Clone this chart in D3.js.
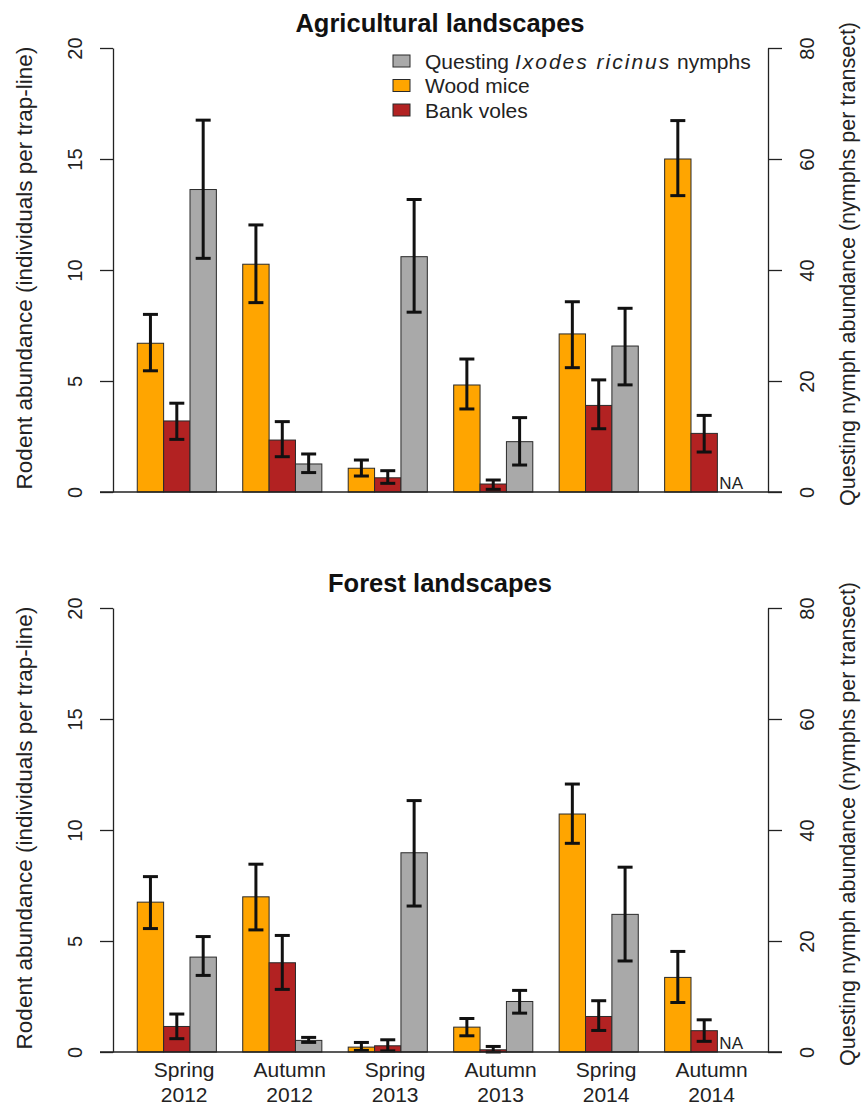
<!DOCTYPE html>
<html>
<head>
<meta charset="utf-8">
<script src="https://cdn.jsdelivr.net/npm/d3@7"></script>
<style>
  body { margin: 0; background: #fff; }
  svg { font-family: "Liberation Sans", Arial, sans-serif; }
</style>
</head>
<body>
<div id="chart"></div>
<script>
const seasons = ["Spring", "Autumn", "Spring", "Autumn", "Spring", "Autumn"];
const years = ["2012", "2012", "2013", "2013", "2014", "2014"];

// Agricultural landscapes (rodents per trap-line, nymphs per transect)
const agriMice = [6.70, 10.26, 1.07, 4.82, 7.12, 15.0];
const agriMiceLo = [5.46, 8.53, 0.72, 3.74, 5.60, 13.35];
const agriMiceHi = [8.00, 12.03, 1.44, 5.99, 8.57, 16.73];
const agriVoles = [3.20, 2.34, 0.64, 0.36, 3.90, 2.64];
const agriVolesLo = [2.37, 1.59, 0.39, 0.12, 2.85, 1.80];
const agriVolesHi = [4.00, 3.17, 0.96, 0.54, 5.05, 3.45];
const agriNymphs = [54.5, 5.05, 42.4, 9.07, 26.3, null];
const agriNymphsLo = [42.1, 3.5, 32.4, 4.86, 19.3, null];
const agriNymphsHi = [67.0, 6.85, 52.7, 13.4, 33.1, null];

// Forest landscapes
const forestMice = [6.75, 6.99, 0.22, 1.12, 10.72, 3.36];
const forestMiceLo = [5.56, 5.50, 0.07, 0.73, 9.40, 2.23];
const forestMiceHi = [7.90, 8.46, 0.43, 1.51, 12.07, 4.53];
const forestVoles = [1.15, 4.02, 0.28, 0.10, 1.60, 0.96];
const forestVolesLo = [0.60, 2.82, 0.05, 0.00, 0.97, 0.48];
const forestVolesHi = [1.71, 5.25, 0.55, 0.25, 2.31, 1.45];
const forestNymphs = [17.1, 2.09, 35.9, 9.1, 24.8, null];
const forestNymphsLo = [13.8, 1.73, 26.3, 7.0, 16.4, null];
const forestNymphsHi = [20.8, 2.63, 45.3, 11.1, 33.3, null];

const leftTicks = [0, 5, 10, 15, 20];
const rightTicks = [0, 20, 40, 60, 80];
const legendLabels = ["Questing", "Wood mice", "Bank voles"];

const colors = { mice: "#FFA500", voles: "#B22222", nymphs: "#A9A9A9" };

const width = 861, height = 1104;
const svg = d3.select("#chart").append("svg")
  .attr("width", width)
  .attr("height", height);

svg.append("rect").attr("width", width).attr("height", height).attr("fill", "#fff");

// bar slots: each season = 1 blank + 3 bars
const x = d3.scaleLinear().domain([0.08, 24.92]).range([113, 768]);

function drawPanel(top, title, mice, voles, nymphs, showLegend, showNames) {
  const y0 = top + 444;
  const yL = d3.scaleLinear().domain([0, 20]).range([y0, top]);
  const yR = d3.scaleLinear().domain([0, 80]).range([y0, top]);
  const g = svg.append("g");

  // title
  g.append("text")
    .attr("x", 440).attr("y", top - 16)
    .attr("text-anchor", "middle")
    .style("font-weight", "bold").style("font-size", "25.5px")
    .attr("fill", "#111")
    .text(title);

  const series = [
    { key: "mice", d: mice, y: yL },
    { key: "voles", d: voles, y: yL },
    { key: "nymphs", d: nymphs, y: yR }
  ];

  series.forEach((s, si) => {
    const rows = s.d.v.map((v, i) => ({ v, lo: s.d.lo[i], hi: s.d.hi[i], i }))
      .filter(r => r.v !== null);

    g.selectAll(null).data(rows).enter().append("rect")
      .attr("x", r => x(4 * r.i + 1 + si))
      .attr("width", r => x(4 * r.i + 2 + si) - x(4 * r.i + 1 + si))
      .attr("y", r => s.y(r.v))
      .attr("height", r => s.y(0) - s.y(r.v))
      .attr("fill", colors[s.key])
      .attr("stroke", "#2a2a2a")
      .attr("stroke-width", 1);

    // error bars
    const eb = g.selectAll(null).data(rows).enter().append("g")
      .attr("stroke", "#111").attr("stroke-width", 3);
    eb.append("line")
      .attr("x1", r => x(4 * r.i + 1.5 + si)).attr("x2", r => x(4 * r.i + 1.5 + si))
      .attr("y1", r => s.y(r.lo)).attr("y2", r => s.y(r.hi));
    eb.append("line")
      .attr("x1", r => x(4 * r.i + 1.5 + si) - 7.5).attr("x2", r => x(4 * r.i + 1.5 + si) + 7.5)
      .attr("y1", r => s.y(r.hi)).attr("y2", r => s.y(r.hi));
    eb.append("line")
      .attr("x1", r => x(4 * r.i + 1.5 + si) - 7.5).attr("x2", r => x(4 * r.i + 1.5 + si) + 7.5)
      .attr("y1", r => s.y(r.lo)).attr("y2", r => s.y(r.lo));

    // missing values
    s.d.v.forEach((v, i) => {
      if (v === null) {
        g.append("text")
          .attr("x", x(4 * i + 1 + si) + 2).attr("y", y0 - 3)
          .style("font-size", "17px").attr("fill", "#222")
          .text("NA");
      }
    });
  });

  // baseline
  g.append("line")
    .attr("x1", 100).attr("x2", 782)
    .attr("y1", y0).attr("y2", y0)
    .attr("stroke", "#222").attr("stroke-width", 1.3);

  // left axis
  const ax = g.append("g")
    .attr("transform", "translate(113,0)")
    .call(d3.axisLeft(yL).tickValues(leftTicks).tickSize(13).tickSizeOuter(0));
  ax.select(".domain").attr("stroke", "#222").attr("stroke-width", 1.3);
  ax.selectAll(".tick line").attr("stroke", "#222").attr("stroke-width", 1.3);
  ax.selectAll(".tick text")
    .attr("x", null).attr("dy", null)
    .attr("transform", "translate(-31,0) rotate(-90)")
    .attr("text-anchor", "middle")
    .style("font-size", "20px").attr("fill", "#222")
    .style("font-family", "'Liberation Sans', Arial, sans-serif");

  // right axis
  const axR = g.append("g")
    .attr("transform", "translate(768,0)")
    .call(d3.axisRight(yR).tickValues(rightTicks).tickSize(14).tickSizeOuter(0));
  axR.select(".domain").attr("stroke", "#222").attr("stroke-width", 1.3);
  axR.selectAll(".tick line").attr("stroke", "#222").attr("stroke-width", 1.3);
  axR.selectAll(".tick text")
    .attr("x", null).attr("dy", null)
    .attr("transform", "translate(46,0) rotate(-90)")
    .attr("text-anchor", "middle")
    .style("font-size", "20px").attr("fill", "#222")
    .style("font-family", "'Liberation Sans', Arial, sans-serif");

  // axis titles
  const mid = top + 220;
  g.append("text")
    .attr("transform", `translate(32,${mid}) rotate(-90)`)
    .attr("text-anchor", "middle")
    .style("font-size", "22.5px").attr("fill", "#222")
    .text("Rodent abundance (individuals per trap-line)");
  g.append("text")
    .attr("transform", `translate(855,${mid - 4}) rotate(-90)`)
    .attr("text-anchor", "middle")
    .style("font-size", "21.5px").attr("fill", "#222")
    .text("Questing nymph abundance (nymphs per transect)");

  if (showNames) {
    const nm = g.selectAll(null).data(seasons).enter().append("text")
      .attr("text-anchor", "middle")
      .style("font-size", "21px").attr("fill", "#222");
    nm.append("tspan")
      .attr("x", (d, i) => x(4 * i + 2.78)).attr("y", y0 + 25)
      .text(d => d);
    nm.append("tspan")
      .attr("x", (d, i) => x(4 * i + 2.78)).attr("y", y0 + 49.5)
      .text((d, i) => years[i]);
  }

  if (showLegend) {
    const keys = ["nymphs", "mice", "voles"];
    const lg = g.selectAll(null).data(keys).enter().append("g")
      .attr("transform", (d, i) => `translate(393,${55 + i * 24.5})`);
    lg.append("rect")
      .attr("width", 17).attr("height", 12)
      .attr("fill", d => colors[d])
      .attr("stroke", "#2a2a2a").attr("stroke-width", 1);
    const lt = lg.append("text")
      .attr("x", 32).attr("y", 13.5)
      .style("font-size", "21px").attr("fill", "#222");
    lt.filter((d, i) => i > 0).text((d, i) => legendLabels[i + 1]);
    const q = lt.filter((d, i) => i === 0);
    q.append("tspan").text(legendLabels[0] + " ");
    q.append("tspan").style("font-style", "italic").attr("letter-spacing", "2px").text("Ixodes ricinus");
    q.append("tspan").text(" nymphs");
  }
}

drawPanel(48, "Agricultural landscapes",
  { v: agriMice, lo: agriMiceLo, hi: agriMiceHi },
  { v: agriVoles, lo: agriVolesLo, hi: agriVolesHi },
  { v: agriNymphs, lo: agriNymphsLo, hi: agriNymphsHi },
  true, false);

drawPanel(608, "Forest landscapes",
  { v: forestMice, lo: forestMiceLo, hi: forestMiceHi },
  { v: forestVoles, lo: forestVolesLo, hi: forestVolesHi },
  { v: forestNymphs, lo: forestNymphsLo, hi: forestNymphsHi },
  false, true);
</script>
</body>
</html>
